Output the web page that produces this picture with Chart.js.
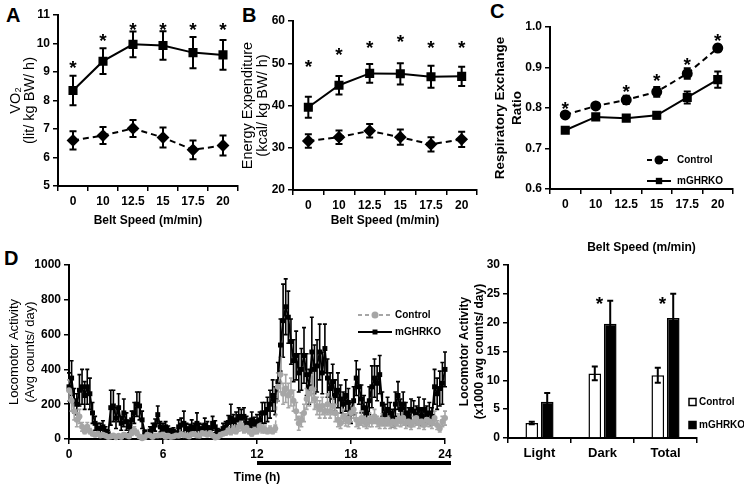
<!DOCTYPE html>
<html>
<head>
<meta charset="utf-8">
<script src="https://cdn.jsdelivr.net/npm/chart.js@4.4.1/dist/chart.umd.min.js"></script>
<style>
  body { margin: 0; background: #fff; width: 744px; height: 488px; position: relative; overflow: hidden; font-family: Arial, "Liberation Sans", sans-serif; }
  canvas { position: absolute; }
  .lbl { position: absolute; font: bold 20px Arial, "Liberation Sans", sans-serif; line-height: 20px; color: #000; }
</style>
</head>
<body>
<div class="lbl" style="left:6px;top:5px">A</div>
<div class="lbl" style="left:242px;top:5px">B</div>
<div class="lbl" style="left:490px;top:1px">C</div>
<div class="lbl" style="left:4px;top:248px">D</div>
<canvas id="chartA" width="245" height="232" style="left:0;top:0"></canvas>
<canvas id="chartB" width="248" height="240" style="left:236px;top:0"></canvas>
<canvas id="chartC" width="254" height="260" style="left:490px;top:0"></canvas>
<canvas id="chartD" width="460" height="238" style="left:0;top:250px"></canvas>
<canvas id="chartE" width="294" height="238" style="left:450px;top:250px"></canvas>
<script>
(function () {
  'use strict';

  // ---- data: treadmill panels ----
  const speeds = ['0', '10', '12.5', '15', '17.5', '20'];

  const vo2Mg = [8.35, 9.38, 9.97, 9.93, 9.68, 9.60];
  const vo2MgErr = [0.52, 0.45, 0.45, 0.50, 0.55, 0.52];
  const vo2Ctl = [6.60, 6.77, 7.02, 6.70, 6.27, 6.42];
  const vo2CtlErr = [0.32, 0.30, 0.30, 0.35, 0.33, 0.35];
  const vo2Stars = [9.32, 10.26, 10.65, 10.65, 10.65, 10.65];

  const eeMg = [39.6, 44.8, 47.6, 47.5, 46.8, 46.9];
  const eeMgErr = [2.5, 2.2, 2.2, 2.5, 2.6, 2.3];
  const eeCtl = [31.6, 32.5, 34.0, 32.5, 30.8, 32.0];
  const eeCtlErr = [1.6, 1.6, 1.6, 1.8, 1.7, 1.8];
  const eeStars = [50.4, 53.1, 54.7, 56.1, 54.7, 54.7];

  const rerCtl = [0.783, 0.805, 0.820, 0.840, 0.885, 0.948];
  const rerCtlErr = [0.006, 0.006, 0.010, 0.012, 0.013, 0.008];
  const rerMg = [0.745, 0.778, 0.775, 0.782, 0.826, 0.870];
  const rerMgErr = [0.006, 0.006, 0.006, 0.008, 0.015, 0.020];
  const rerStarAt = [0, 2, 3, 4, 5];
  const rerStars = [0.811, 0.851, 0.879, 0.918, 0.977];

  // ---- data: 24 h locomotor activity, 10 min bins (6 per hour, last point = 24 h) ----
  const binsPerHour = 6;
  const actMg = [
    300, 350, 220, 200, 280, 300,
    250, 300, 260, 150, 90, 60,
    60, 70, 45, 30, 180, 190,
    120, 180, 90, 150, 100, 70,
    110, 150, 200, 190, 110, 40,
    20, 45, 60, 80, 140, 70,
    60, 70, 50, 40, 45, 30,
    70, 80, 90, 60, 55, 70,
    60, 90, 60, 55, 80, 65,
    50, 90, 70, 40, 35, 60,
    70, 95, 120, 100, 110, 130,
    120, 130, 90, 80, 110, 85,
    100, 110, 150, 150, 170, 200,
    250, 220, 330, 540, 680, 760,
    700, 560, 450, 480, 380, 400,
    480, 370, 300, 500, 400, 420,
    500, 380, 520, 350, 290, 330,
    250, 280, 230, 200, 250, 210,
    150, 220, 350, 300, 230, 180,
    150, 220, 300, 350, 320, 370,
    200, 140, 170, 150, 120, 200,
    250, 170, 200, 150, 130, 170,
    160, 140, 170, 130, 170, 140,
    150, 130, 300, 260, 290, 320,
    400
  ];
  const actMgErr = [
    80, 100, 70, 60, 90, 100,
    80, 100, 90, 60, 40, 30,
    30, 35, 25, 20, 100, 90,
    60, 80, 40, 80, 50, 35,
    50, 60, 70, 80, 50, 10,
    10, 25, 30, 35, 50, 30,
    30, 30, 25, 20, 20, 15,
    40, 40, 70, 30, 30, 40,
    30, 60, 30, 30, 40, 35,
    25, 40, 35, 20, 20, 30,
    30, 40, 80, 40, 45, 50,
    50, 50, 40, 35, 45, 40,
    40, 45, 60, 60, 70, 80,
    90, 80, 110, 150, 210, 160,
    150, 130, 120, 140, 110, 120,
    160, 120, 100, 200, 140, 150,
    160, 120, 140, 110, 90, 100,
    90, 100, 80, 70, 90, 80,
    60, 80, 100, 100, 80, 70,
    60, 80, 120, 110, 100, 110,
    70, 60, 70, 60, 50, 70,
    80, 60, 70, 60, 50, 60,
    60, 50, 70, 50, 60, 50,
    60, 50, 100, 90, 100, 120,
    100
  ];
  const actCtl = [
    280, 220, 160, 110, 130, 70,
    45, 70, 45, 30, 25, 30,
    20, 25, 18, 12, 15, 20,
    10, 18, 12, 25, 20, 15,
    35, 50, 35, 15, 5, 10,
    25, 20, 12, 20, 20, 22,
    25, 12, 18, 12, 15, 20,
    18, 28, 22, 20, 15, 28,
    28, 20, 18, 35, 30, 25,
    35, 20, 8, 12, 25, 30,
    35, 50, 40, 55, 45, 70,
    80, 55, 65, 45, 30, 50,
    45, 75, 55, 55, 45, 55,
    45, 60, 300, 370, 260, 290,
    250, 270, 220, 160, 90, 110,
    150, 230, 260, 290, 230, 190,
    170, 190, 160, 200, 160, 190,
    150, 110, 90, 130, 110, 100,
    150, 170, 110, 90, 120, 100,
    90, 110, 100, 130, 100, 90,
    110, 90, 110, 90, 100, 90,
    110, 100, 120, 90, 100, 80,
    100, 120, 90, 100, 80, 110,
    100, 90, 120, 80, 60, 100,
    120
  ];
  const actCtlErr = [
    60, 60, 50, 40, 40, 25,
    15, 25, 15, 10, 10, 10,
    8, 10, 6, 5, 5, 8,
    5, 8, 5, 10, 8, 6,
    15, 20, 15, 6, 3, 4,
    8, 8, 5, 8, 8, 8,
    10, 5, 8, 5, 6, 8,
    8, 10, 8, 8, 6, 10,
    10, 8, 8, 12, 10, 10,
    12, 8, 4, 5, 10, 10,
    12, 20, 15, 20, 15, 25,
    30, 20, 25, 15, 12, 20,
    15, 25, 20, 20, 15, 20,
    15, 20, 80, 100, 60, 80,
    70, 80, 60, 50, 40, 40,
    50, 60, 70, 80, 60, 50,
    50, 50, 40, 60, 40, 50,
    50, 40, 30, 40, 35, 30,
    50, 50, 40, 30, 40, 30,
    30, 40, 30, 40, 30, 30,
    35, 30, 35, 30, 30, 30,
    35, 30, 40, 30, 30, 25,
    30, 40, 30, 30, 25, 35,
    30, 30, 40, 25, 20, 30,
    40
  ];

  // ---- data: light/dark totals ----
  const periods = ['Light', 'Dark', 'Total'];
  const totCtl = [2.6, 11.2, 10.9];
  const totCtlErr = [0.2, 1.2, 1.3];
  const totMg = [6.3, 19.8, 20.8];
  const totMgErr = [1.5, 4.0, 4.2];
  const totStarAt = [1, 2];
  const totStars = [24.1, 24.1];

  const FONT = 'Arial, "Liberation Sans", sans-serif';
  Chart.defaults.font.family = FONT;
  Chart.defaults.color = '#000';

  function drawErrors(chart) {
    const ctx = chart.ctx;
    const y = chart.scales.y;
    const sets = chart.data.datasets;
    for (let i = sets.length - 1; i >= 0; i--) {
      const ds = sets[i];
      if (!ds.errors) continue;
      const meta = chart.getDatasetMeta(i);
      const cap = ds.capWidth || 3;
      ctx.save();
      ctx.strokeStyle = ds.errorColor || '#000';
      ctx.lineWidth = ds.errorWidth || 1.5;
      ctx.setLineDash([]);
      meta.data.forEach(function (el, j) {
        const raw = ds.data[j];
        const v = typeof raw === 'object' ? raw.y : raw;
        const e = ds.errors[j];
        const top = y.getPixelForValue(v + e);
        const bot = y.getPixelForValue(Math.max(v - e, y.min));
        ctx.beginPath();
        ctx.moveTo(el.x, top); ctx.lineTo(el.x, bot);
        ctx.moveTo(el.x - cap, top); ctx.lineTo(el.x + cap, top);
        ctx.moveTo(el.x - cap, bot); ctx.lineTo(el.x + cap, bot);
        ctx.stroke();
      });
      ctx.restore();
    }
  }

  const errorBars = {
    id: 'errorBars',
    beforeDatasetsDraw(chart, args, opts) { if (!opts.after) drawErrors(chart); },
    afterDatasetsDraw(chart, args, opts) { if (opts.after) drawErrors(chart); }
  };

  const stars = {
    id: 'stars',
    afterDraw(chart, args, opts) {
      if (!opts.at) return;
      const { ctx, scales: { x, y } } = chart;
      const size = opts.size || 19;
      ctx.save();
      ctx.fillStyle = '#000';
      ctx.font = 'bold ' + size + 'px ' + FONT;
      ctx.textAlign = 'center';
      ctx.textBaseline = 'alphabetic';
      opts.at.forEach(function (c, k) {
        ctx.fillText('*', x.getPixelForValue(c) + (opts.dx || 0), y.getPixelForValue(opts.values[k]) + size * 0.58);
      });
      ctx.restore();
    }
  };

  function axisGrid() {
    return { display: true, drawOnChartArea: false, drawTicks: true, tickLength: 5, color: '#000', lineWidth: 1.5 };
  }

  function beltChart(id, cfg) {
    return new Chart(document.getElementById(id), {
      type: 'line',
      data: { labels: speeds, datasets: cfg.datasets },
      plugins: [errorBars, stars].concat(cfg.extra || []),
      options: {
        responsive: false,
        animation: false,
        devicePixelRatio: 1,
        layout: { padding: cfg.padding },
        plugins: {
          legend: { display: false },
          tooltip: { enabled: false },
          errorBars: { after: true },
          stars: cfg.stars
        },
        scales: {
          x: {
            offset: true,
            grid: Object.assign(axisGrid(), { offset: true }),
            border: { color: '#000', width: 2 },
            ticks: { font: { size: 12, weight: 'bold' }, padding: 3, maxRotation: 0, autoSkip: false },
            title: { display: true, text: 'Belt Speed (m/min)', font: { size: 12, weight: 'bold' }, padding: { top: 0, bottom: cfg.xTitlePad } },
            afterFit: function (s) { s.height = cfg.xHeight; }
          },
          y: {
            min: cfg.yMin, max: cfg.yMax,
            grid: axisGrid(),
            border: { color: '#000', width: 2 },
            ticks: { stepSize: cfg.yStep, font: { size: 12, weight: 'bold' }, padding: 3, callback: cfg.yFmt },
            title: { display: true, text: cfg.yTitle, font: cfg.yTitleFont, padding: { top: cfg.yTitlePad, bottom: 0 } },
            afterFit: function (s) { s.width = cfg.yWidth; }
          }
        }
      }
    });
  }

  function lineSet(data, errors, solid, style, radius) {
    return {
      data: data, errors: errors, errorColor: '#000', errorWidth: 2, capWidth: 3.5,
      borderColor: '#000', borderWidth: 2, borderDash: solid ? [] : [6, 4],
      pointStyle: style, pointRadius: radius, pointBackgroundColor: '#000', pointBorderColor: '#000',
      tension: 0, clip: false
    };
  }

  beltChart('chartA', {
    datasets: [lineSet(vo2Mg, vo2MgErr, true, 'rect', 5), lineSet(vo2Ctl, vo2CtlErr, false, 'rectRot', 5)],
    padding: { left: 0, top: 15, right: 5, bottom: 0 },
    xHeight: 46, xTitlePad: 4, yWidth: 58, yTitlePad: 9.5,
    yMin: 5, yMax: 11, yStep: 1,
    yTitle: ['VO\u2082', '(lit/ kg BW/ h)'], yTitleFont: { size: 14.5, lineHeight: 0.95 },
    stars: { at: [0, 1, 2, 3, 4, 5], values: vo2Stars }
  });

  beltChart('chartB', {
    datasets: [lineSet(eeMg, eeMgErr, true, 'rect', 5), lineSet(eeCtl, eeCtlErr, false, 'rectRot', 5)],
    padding: { left: 0, top: 21, right: 4, bottom: 0 },
    xHeight: 50, xTitlePad: 12, yWidth: 57, yTitlePad: 5,
    yMin: 20, yMax: 60, yStep: 10,
    yTitle: ['Energy Expenditure', '(kcal/ kg BW/ h)'], yTitleFont: { size: 14.5, lineHeight: 1.0 },
    stars: { at: [0, 1, 2, 3, 4, 5], values: eeStars }
  });

  const rerLegend = {
    id: 'rerLegend',
    afterDraw(chart) {
      const { ctx, chartArea: a } = chart;
      const rows = [
        { text: 'Control', dash: [5, 3], style: 'circle', y: a.bottom - 29 },
        { text: 'mGHRKO', dash: [], style: 'rect', y: a.bottom - 8 }
      ];
      ctx.save();
      rows.forEach(function (r) {
        const x0 = a.right - 86;
        ctx.strokeStyle = '#000'; ctx.lineWidth = 2; ctx.setLineDash(r.dash);
        ctx.beginPath(); ctx.moveTo(x0, r.y); ctx.lineTo(x0 + 24, r.y); ctx.stroke();
        ctx.setLineDash([]);
        ctx.fillStyle = '#000';
        Chart.helpers.drawPoint(ctx, { pointStyle: r.style, radius: 4.5, borderWidth: 0 }, x0 + 12, r.y);
        ctx.font = 'bold 10px ' + FONT; ctx.textBaseline = 'middle'; ctx.textAlign = 'left';
        ctx.fillText(r.text, x0 + 30, r.y);
      });
      ctx.restore();
    }
  };

  beltChart('chartC', {
    datasets: [lineSet(rerCtl, rerCtlErr, false, 'circle', 4.5), lineSet(rerMg, rerMgErr, true, 'rect', 5)],
    padding: { left: 0, top: 27, right: 11, bottom: 0 },
    xHeight: 71, xTitlePad: 5, yWidth: 60, yTitlePad: 1.5,
    yMin: 0.6, yMax: 1.0, yStep: 0.1, yFmt: function (v) { return v.toFixed(1); },
    yTitle: ['Respiratory Exchange', 'Ratio'], yTitleFont: { size: 13.5, weight: 'bold', lineHeight: 1.25 },
    stars: { at: rerStarAt, values: rerStars },
    extra: [rerLegend]
  });

  // ---- D: 24 h activity trace ----
  const hours = actMg.map(function (_, i) { return i / binsPerHour; });
  const toXY = function (arr) { return arr.map(function (v, i) { return { x: hours[i], y: v }; }); };

  const darkBar = {
    id: 'darkBar',
    afterDraw(chart) {
      const { ctx, chartArea: a, scales: { x } } = chart;
      ctx.save();
      ctx.fillStyle = '#000';
      ctx.fillRect(x.getPixelForValue(12), a.bottom + 22, x.getPixelForValue(24) + 6 - x.getPixelForValue(12), 4);
      const rows = [
        { text: 'Control', color: '#a6a6a6', dash: [4, 3], style: 'circle', y: a.top + 50 },
        { text: 'mGHRKO', color: '#000', dash: [], style: 'rect', y: a.top + 67 }
      ];
      rows.forEach(function (r) {
        const x0 = 358;
        ctx.strokeStyle = r.color; ctx.lineWidth = 2; ctx.setLineDash(r.dash);
        ctx.beginPath(); ctx.moveTo(x0, r.y); ctx.lineTo(x0 + 34, r.y); ctx.stroke();
        ctx.setLineDash([]);
        ctx.fillStyle = r.color;
        Chart.helpers.drawPoint(ctx, { pointStyle: r.style, radius: 3.5, borderWidth: 0 }, x0 + 17, r.y);
        ctx.fillStyle = '#000';
        ctx.font = 'bold 10px ' + FONT; ctx.textBaseline = 'middle'; ctx.textAlign = 'left';
        ctx.fillText(r.text, x0 + 37, r.y);
      });
      ctx.restore();
    }
  };

  new Chart(document.getElementById('chartD'), {
    type: 'line',
    data: {
      datasets: [
        {
          label: 'Control', data: toXY(actCtl), errors: actCtlErr, errorColor: '#a6a6a6', errorWidth: 1.6, capWidth: 2,
          borderColor: '#a6a6a6', borderWidth: 1.5, borderDash: [4, 3],
          pointStyle: 'circle', pointRadius: 3, pointBackgroundColor: '#a6a6a6', pointBorderWidth: 0, clip: false
        },
        {
          label: 'mGHRKO', data: toXY(actMg), errors: actMgErr, errorColor: '#000', errorWidth: 1.6, capWidth: 2,
          borderColor: '#000', borderWidth: 1.8,
          pointStyle: 'rect', pointRadius: 3.5, pointBackgroundColor: '#000', pointBorderWidth: 0, clip: false
        }
      ]
    },
    plugins: [errorBars, darkBar],
    options: {
      responsive: false, animation: false, devicePixelRatio: 1,
      layout: { padding: { left: 0, top: 15, right: 15, bottom: 0 } },
      plugins: { legend: { display: false }, tooltip: { enabled: false }, errorBars: { after: false } },
      scales: {
        x: {
          type: 'linear', min: 0, max: 24,
          grid: axisGrid(),
          border: { color: '#000', width: 2 },
          ticks: { stepSize: 6, font: { size: 12, weight: 'bold' }, padding: 3, maxRotation: 0 },
          title: { display: true, text: 'Time (h)', font: { size: 12, weight: 'bold' }, padding: { top: 0, bottom: 3 } },
          afterFit: function (s) { s.height = 49; }
        },
        y: {
          min: 0, max: 1000,
          grid: axisGrid(),
          border: { color: '#000', width: 2 },
          ticks: { stepSize: 200, font: { size: 12, weight: 'bold' }, padding: 3, callback: function (v) { return String(v); } },
          title: { display: true, text: ['Locomotor Activity', '(Avg counts/ day)'], font: { size: 13, lineHeight: 1.3 }, padding: { top: 5.5, bottom: 0 } },
          afterFit: function (s) { s.width = 69; }
        }
      }
    }
  });

  // ---- D right: light / dark / total ----
  const barLegend = {
    id: 'barLegend',
    afterDraw(chart) {
      const { ctx, chartArea: a } = chart;
      const rows = [
        { text: 'Control', fill: '#fff', y: a.top + 137 },
        { text: 'mGHRKO', fill: '#000', y: a.top + 160 }
      ];
      ctx.save();
      rows.forEach(function (r) {
        const x0 = a.right - 8;
        ctx.fillStyle = r.fill; ctx.strokeStyle = '#000'; ctx.lineWidth = 1.5;
        ctx.fillRect(x0, r.y - 3.5, 7, 7); ctx.strokeRect(x0, r.y - 3.5, 7, 7);
        ctx.fillStyle = '#000';
        ctx.font = 'bold 10px ' + FONT; ctx.textBaseline = 'middle'; ctx.textAlign = 'left';
        ctx.fillText(r.text, x0 + 10, r.y);
      });
      ctx.restore();
    }
  };

  new Chart(document.getElementById('chartE'), {
    type: 'bar',
    data: {
      labels: periods,
      datasets: [
        { label: 'Control', data: totCtl, errors: totCtlErr, errorColor: '#000', errorWidth: 2, capWidth: 3,
          backgroundColor: '#fff', borderColor: '#000', borderWidth: 1.5,
          categoryPercentage: 0.49, barPercentage: 0.82 },
        { label: 'mGHRKO', data: totMg, errors: totMgErr, errorColor: '#000', errorWidth: 2, capWidth: 3,
          backgroundColor: '#000', borderColor: '#000', borderWidth: 1.5,
          categoryPercentage: 0.49, barPercentage: 0.82 }
      ]
    },
    plugins: [errorBars, stars, barLegend],
    options: {
      responsive: false, animation: false, devicePixelRatio: 1,
      layout: { padding: { left: 0, top: 15, right: 47, bottom: 0 } },
      plugins: {
        legend: { display: false }, tooltip: { enabled: false },
        errorBars: { after: true },
        stars: { at: totStarAt, values: totStars, dx: -3 }
      },
      scales: {
        x: {
          grid: Object.assign(axisGrid(), { offset: true }),
          border: { color: '#000', width: 2 },
          ticks: { font: { size: 13, weight: 'bold' }, padding: 3 },
          afterFit: function (s) { s.height = 50; }
        },
        y: {
          min: 0, max: 30,
          grid: axisGrid(),
          border: { color: '#000', width: 2 },
          ticks: { stepSize: 5, font: { size: 12, weight: 'bold' }, padding: 3 },
          title: { display: true, text: ['Locomotor Activity', '(x1000 avg counts/ day)'], font: { size: 12, weight: 'bold', lineHeight: 1.25 }, padding: { top: 7.5, bottom: 0 } },
          afterFit: function (s) { s.width = 58; }
        }
      }
    }
  });
})();
</script>
</body>
</html>
